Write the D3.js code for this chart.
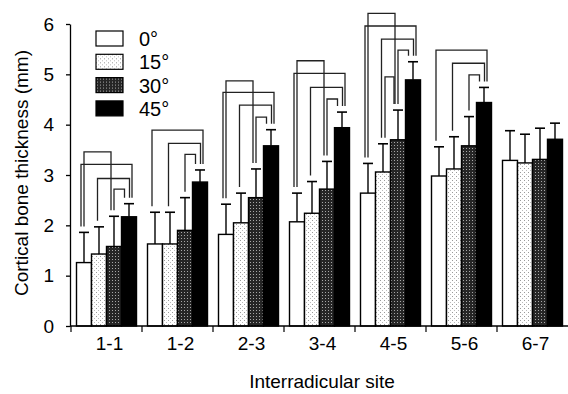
<!DOCTYPE html>
<html><head><meta charset="utf-8">
<script src="https://cdn.jsdelivr.net/npm/d3@7"></script>
<style>
html,body{margin:0;padding:0;background:#fff;}
svg{display:block;font-family:"Liberation Sans",Arial,sans-serif;}
</style></head>
<body>
<svg id="chart" width="568" height="394"></svg>
<script>
// ---- data ----
const sites = ["1-1","1-2","2-3","3-4","4-5","5-6","6-7"];
const angles = ["0°","15°","30°","45°"];
const mean0  = [1.26,1.63,1.82,2.07,2.64,2.98,3.29];
const mean15 = [1.43,1.63,2.05,2.24,3.06,3.12,3.24];
const mean30 = [1.58,1.90,2.55,2.72,3.70,3.58,3.31];
const mean45 = [2.17,2.86,3.58,3.94,4.89,4.44,3.71];
const sd0  = [0.60,0.63,0.60,0.57,0.59,0.58,0.59];
const sd15 = [0.54,0.63,0.59,0.63,0.56,0.64,0.57];
const sd30 = [0.60,0.65,0.57,0.55,0.59,0.58,0.62];
const sd45 = [0.26,0.24,0.32,0.31,0.36,0.30,0.32];
const yTicks = [0,1,2,3,4,5,6];
// significance brackets: [site, barA, barB, level (mm)]
const brackets = [
  ["1-1",0,2,3.46],["1-1",0,3,3.21],["1-1",1,3,2.93],["1-1",2,3,2.72],
  ["1-2",0,3,3.89],["1-2",1,3,3.63],["1-2",2,3,3.41],
  ["2-3",0,2,4.87],["2-3",0,3,4.64],["2-3",1,3,4.39],["2-3",2,3,4.15],
  ["3-4",0,2,5.27],["3-4",0,3,5.02],["3-4",1,3,4.74],["3-4",2,3,4.51],
  ["4-5",0,2,6.21],["4-5",0,3,5.96],["4-5",1,3,5.70],["4-5",2,3,5.48],["4-5",1,2,4.95],
  ["5-6",0,3,5.48],["5-6",1,3,5.22],["5-6",2,3,4.99]
];
const means = [mean0,mean15,mean30,mean45];
const sds = [sd0,sd15,sd30,sd45];

// ---- setup ----
const svg = d3.select("#chart");
const defs = svg.append("defs");
// stipple pattern for 15°
const p15 = defs.append("pattern").attr("id","p15").attr("patternUnits","userSpaceOnUse")
  .attr("width",4).attr("height",4);
p15.append("rect").attr("width",4).attr("height",4).attr("fill","#fff");
p15.append("rect").attr("x",0).attr("y",0).attr("width",1).attr("height",1).attr("fill","#999");
p15.append("rect").attr("x",2).attr("y",2).attr("width",1).attr("height",1).attr("fill","#bbb");
// dark grid pattern for 30°
const p30 = defs.append("pattern").attr("id","p30").attr("patternUnits","userSpaceOnUse")
  .attr("width",3).attr("height",3);
p30.append("rect").attr("width",3).attr("height",3).attr("fill","#262626");
p30.append("rect").attr("x",1).attr("y",1).attr("width",1).attr("height",1).attr("fill","#a8a8a8");
const fills = ["#fff","url(#p15)","url(#p30)","#000"];

const y = d3.scaleLinear().domain([0,6]).range([326,24]);
const x0 = d3.scaleBand().domain(sites).range([71,568]);
const x1 = d3.scaleBand().domain(d3.range(4)).range([5.5,65.5]);
const bw = x1.bandwidth();

// ---- bars ----
const rows = [];
sites.forEach((s,i)=>{ for(let k=0;k<4;k++) rows.push({s,k,m:means[k][i],sd:sds[k][i]}); });
const g = svg.append("g");
g.selectAll("rect.bar").data(rows).join("rect").attr("class","bar")
  .attr("x",d=>x0(d.s)+x1(d.k)).attr("width",bw)
  .attr("y",d=>y(d.m)).attr("height",d=>y(0)-y(d.m))
  .attr("fill",d=>fills[d.k]).attr("stroke","#000").attr("stroke-width",1.4);
// error bars (upper)
const cx = d=>x0(d.s)+x1(d.k)+bw/2;
g.selectAll("line.err").data(rows).join("line").attr("class","err")
  .attr("x1",cx).attr("x2",cx).attr("y1",d=>y(d.m)).attr("y2",d=>y(d.m+d.sd))
  .attr("stroke","#000").attr("stroke-width",1.4);
g.selectAll("line.cap").data(rows).join("line").attr("class","cap")
  .attr("x1",d=>cx(d)-5).attr("x2",d=>cx(d)+5).attr("y1",d=>y(d.m+d.sd)).attr("y2",d=>y(d.m+d.sd))
  .attr("stroke","#000").attr("stroke-width",1.6);

// ---- brackets ----
const legOff = {"0-2":[0,-3],"0-3":[-3,3],"1-3":[-1.5,0.5],"2-3":[0,-4.5],"1-2":[2,-4]};
const capTop = (s,k)=>{ const i=sites.indexOf(s); return y(means[k][i]+sds[k][i]); };
g.selectAll("path.br").data(brackets).join("path").attr("class","br")
  .attr("d",d=>{
    const [s,a,b,lv]=d; const off=legOff[a+"-"+b];
    const xa=x0(s)+x1(a)+bw/2+off[0], xb=x0(s)+x1(b)+bw/2+off[1];
    const yt=y(lv);
    return `M${xa},${capTop(s,a)-6}V${yt}H${xb}V${capTop(s,b)-6}`;
  })
  .attr("fill","none").attr("stroke","#222").attr("stroke-width",1.3);

// ---- axes ----
const ya = svg.append("g").attr("transform","translate(70,0)")
  .call(d3.axisLeft(y).tickValues(yTicks).tickFormat(d3.format("d")).tickSize(4).tickPadding(12).tickSizeOuter(0));
ya.selectAll("text").attr("font-size",19).attr("fill","#000").attr("font-family","Liberation Sans, Arial, sans-serif");
ya.selectAll("line,path").attr("stroke","#000").attr("stroke-width",1.3);

const xa = svg.append("g").attr("transform","translate(0,326)")
  .call(d3.axisBottom(x0).tickSize(0).tickPadding(11));
xa.select("path").attr("d","M70,0H568").attr("stroke","#000").attr("stroke-width",1.3);
xa.selectAll("text").attr("font-size",19).attr("fill","#000").attr("dx",3).attr("font-family","Liberation Sans, Arial, sans-serif");
xa.selectAll("line.bt").data(sites).join("line").attr("class","bt")
  .attr("x1",d=>x0(d)).attr("x2",d=>x0(d)).attr("y1",0).attr("y2",6)
  .attr("stroke","#000").attr("stroke-width",1.2);

// ---- titles ----
svg.append("text").attr("x",322).attr("y",388).attr("text-anchor","middle")
  .attr("font-size",19).text("Interradicular site");
svg.append("text").attr("transform","rotate(-90)").attr("x",-173).attr("y",28)
  .attr("text-anchor","middle").attr("font-size",19).text("Cortical bone thickness (mm)");

// ---- legend ----
const lg = svg.append("g").attr("transform","translate(96,31)");
const li = lg.selectAll("g").data(angles).join("g").attr("transform",(d,i)=>`translate(0,${i*23.3})`);
li.append("rect").attr("width",27).attr("height",15).attr("fill",(d,i)=>fills[i]).attr("stroke","#000").attr("stroke-width",1.2);
li.append("text").attr("x",43).attr("y",15).attr("font-size",20).text(d=>d);
</script>
</body></html>
